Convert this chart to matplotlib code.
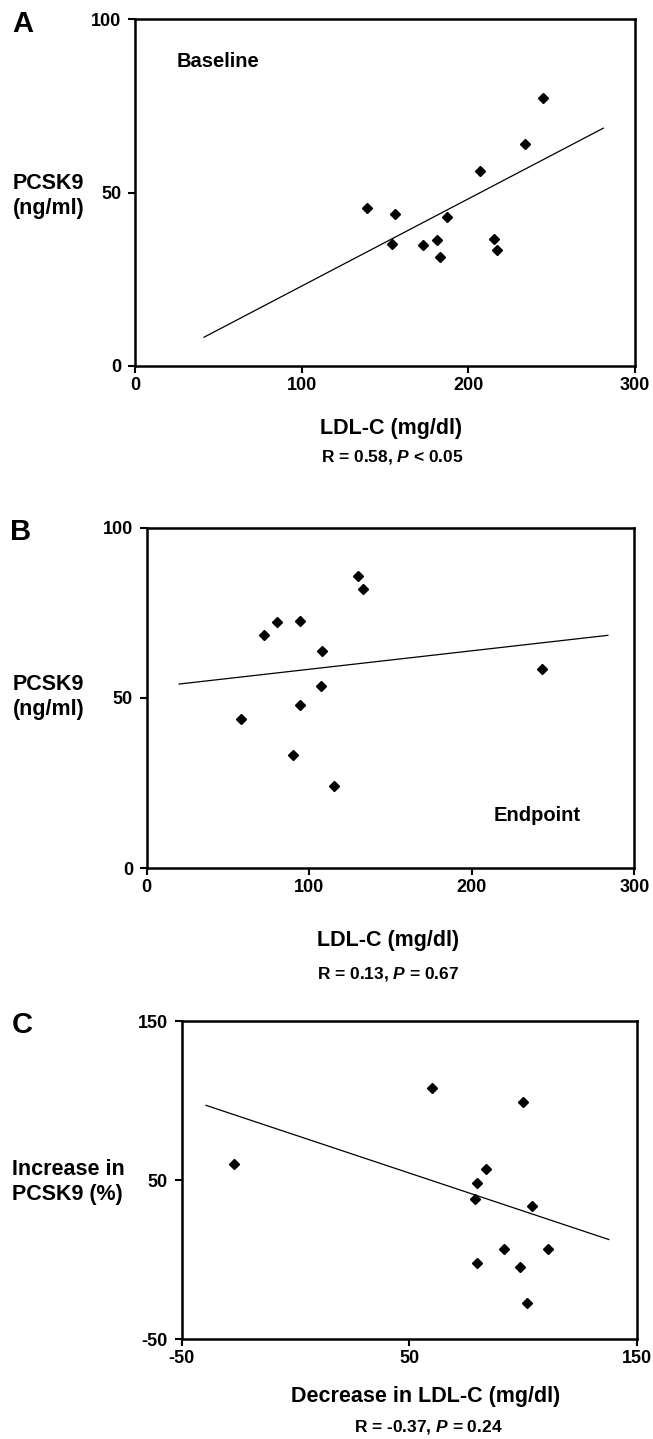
import matplotlib
matplotlib.use("Agg")
import matplotlib.pyplot as plt

plt.rcParams['font.family'] = ['Liberation Sans', 'DejaVu Sans']
plt.rcParams['font.weight'] = 'bold'
plt.rcParams['mathtext.fontset'] = 'custom'
plt.rcParams['mathtext.rm'] = 'Liberation Sans:bold'
plt.rcParams['mathtext.it'] = 'Liberation Sans:italic:bold'
plt.rcParams['mathtext.bf'] = 'Liberation Sans:bold'
plt.rcParams['mathtext.bfit'] = 'Liberation Sans:italic:bold'

# ---- Panel A: Baseline ----
a_ldl = [139, 156, 154, 173, 181.4, 183.2, 187.4, 207, 215.6, 217.2, 234.2, 244.6]
a_pcsk9 = [45.5, 43.9, 35.1, 34.8, 36.4, 31.5, 43.0, 56.3, 36.7, 33.5, 64.1, 77.3]
a_fit_x = [41.4, 281]
a_fit_y = [8.3, 68.6]
a_xticks = [0, 100, 200, 300]
a_yticks = [0, 50, 100]

# ---- Panel B: Endpoint ----
b_ldl = [130.1, 133.3, 80.0, 94.2, 72.0, 107.9, 243.1, 107.1, 94.2, 58.1, 90.1, 114.9]
b_pcsk9 = [85.8, 82.1, 72.2, 72.7, 68.6, 63.9, 58.5, 53.4, 47.8, 43.9, 33.3, 24.1]
b_fit_x = [19.9, 283.7]
b_fit_y = [54.1, 68.4]
b_xticks = [0, 100, 200, 300]
b_yticks = [0, 50, 100]

# ---- Panel C: change ----
c_dldl = [-27.0, 59.8, 99.8, 83.7, 79.7, 78.7, 103.9, 91.7, 110.8, 79.7, 98.6, 101.5]
c_dpcsk9 = [60.1, 107.7, 98.8, 56.7, 48.5, 38.3, 33.9, 6.6, 6.6, -2.2, -4.7, -27.1]
c_fit_x = [-39.3, 137.6]
c_fit_y = [97.0, 12.7]
c_xticks = [-50, 50, 150]
c_yticks = [-50, 50, 150]

W, H = 653, 1439
fig = plt.figure(figsize=(W / 100, H / 100), dpi=100)


def px_axes(l, r, t, b):
    return fig.add_axes([l / W, 1 - b / H, (r - l) / W, (b - t) / H])


def ftext(x, y, s, **kw):
    fig.text(x / W, 1 - y / H, s, **kw)


def style(ax, xlim, ylim, xt, yt):
    ax.set_xlim(*xlim)
    ax.set_ylim(*ylim)
    ax.set_xticks(xt)
    ax.set_yticks(yt)
    ax.set_xticklabels([str(v) for v in xt])
    ax.set_yticklabels([str(v) for v in yt])
    for s in ax.spines.values():
        s.set_linewidth(1.8)
    ax.tick_params(direction='out', length=5, width=1.5, labelsize=13)
    ax.tick_params(axis='x', pad=3)
    ax.tick_params(axis='y', pad=5)
    for lab in ax.get_xticklabels() + ax.get_yticklabels():
        lab.set_fontweight('bold')


def panel(ax, x, y, fx, fy, xlim, ylim, xt, yt):
    style(ax, xlim, ylim, xt, yt)
    ax.plot(fx, fy, color='black', lw=0.9)
    ax.plot(x, y, linestyle='none', marker='D', markersize=5.6,
            color='black', clip_on=False)


lab_kw = dict(fontsize=15.5, fontweight='bold')
stat_kw = dict(fontsize=12.5, fontweight='bold', ha='center', va='center')

# Panel A
axA = px_axes(135, 635, 19.3, 366)
panel(axA, a_ldl, a_pcsk9, a_fit_x, a_fit_y, (0, 300), (0, 100), a_xticks, a_yticks)
axA.text(25, 87.8, 'Baseline', fontsize=14.5, fontweight='bold', va='center', ha='left')
ftext(23, 24, 'A', fontsize=21, fontweight='bold', ha='center', va='center')
ftext(13, 196, 'PCSK9\n(ng/ml)', ha='left', va='center', linespacing=1.22, **lab_kw)
ftext(391.5, 428, 'LDL-C (mg/dl)', ha='center', va='center', **lab_kw)
ftext(392.5, 456.7, r'R = 0.58, $P$ < 0.05', **stat_kw)

# Panel B
axB = px_axes(146.8, 634.4, 527.7, 868.3)
panel(axB, b_ldl, b_pcsk9, b_fit_x, b_fit_y, (0, 300), (0, 100), b_xticks, b_yticks)
axB.text(240, 15.6, 'Endpoint', fontsize=14.5, fontweight='bold', va='center', ha='center')
ftext(21, 532, 'B', fontsize=21, fontweight='bold', ha='center', va='center')
ftext(13, 697, 'PCSK9\n(ng/ml)', ha='left', va='center', linespacing=1.22, **lab_kw)
ftext(388, 940.5, 'LDL-C (mg/dl)', ha='center', va='center', **lab_kw)
ftext(388, 974, r'R = 0.13, $P$ = 0.67', **stat_kw)

# Panel C
axC = px_axes(181.7, 637, 1021, 1339.3)
panel(axC, c_dldl, c_dpcsk9, c_fit_x, c_fit_y, (-50, 150), (-50, 150), c_xticks, c_yticks)
ftext(22, 1025, 'C', fontsize=21, fontweight='bold', ha='center', va='center')
ftext(12, 1182, 'Increase in\nPCSK9 (%)', ha='left', va='center', linespacing=1.22, **lab_kw)
ftext(425.8, 1396.7, 'Decrease in LDL-C (mg/dl)', ha='center', va='center', **lab_kw)
ftext(428.3, 1426.7, r'R = -0.37, $P$ = 0.24', **stat_kw)

fig.savefig('out.png', dpi=100)
